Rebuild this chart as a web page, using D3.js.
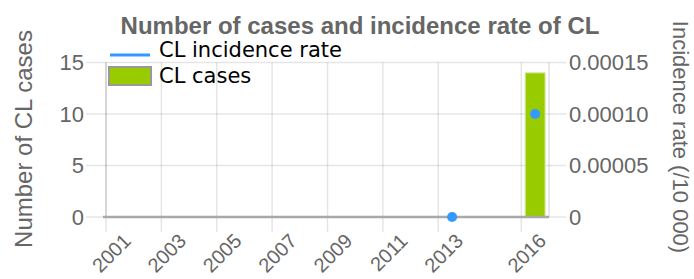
<!DOCTYPE html>
<html><head><meta charset="utf-8">
<script src="https://cdn.jsdelivr.net/npm/d3@7"></script>
<style>
html,body{margin:0;padding:0;background:#fff;overflow:hidden}
svg{display:block}
</style></head>
<body>
<script>
// ---- data ----
const years = ["2001","2002","2003","2004","2005","2006","2007","2008","2009","2010","2011","2012","2013","2014","2015","2016"];
const shownLabels = ["2001","2003","2005","2007","2009","2011","2013","2016"];
const cases = [0,0,0,0,0,0,0,0,0,0,0,0,0,0,0,14];
const incidence = [null,null,null,null,null,null,null,null,null,null,null,null,0,null,null,0.0001];
const casesTicks = [0,5,10,15];
const rateTicks = [0,0.00005,0.0001,0.00015];
const rateTickLabels = ["0","0.00005","0.00010","0.00015"];
const titleText = "Number of cases and incidence rate of CL";
const leftTitle = "Number of CL cases";
const rightTitle = "Incidence rate (/10 000)";
const legendItems = ["CL incidence rate","CL cases"];

const W = 694, H = 279;
const area = {left:106, right:549, top:62.5, bottom:217};
const grey = "#666";
const font = "'Liberation Sans', Arial, sans-serif";

const svg = d3.select("body").append("svg").attr("width",W).attr("height",H);

const x = d3.scaleBand().domain(years).range([area.left, area.right]).paddingInner(0).paddingOuter(0);
const yL = d3.scaleLinear().domain([0,15]).range([area.bottom, area.top]);
const yR = d3.scaleLinear().domain([0,0.00015]).range([area.bottom, area.top]);

// horizontal grid lines
svg.append("g").selectAll("line").data(casesTicks).join("line")
  .attr("x1", area.left-20).attr("x2", area.right+17)
  .attr("y1", d=>yL(d)).attr("y2", d=>yL(d))
  .attr("stroke","rgba(0,0,0,0.1)").attr("stroke-width",1.5);

// vertical grid lines at labelled ticks (bin left edges)
svg.append("g").selectAll("line").data(shownLabels).join("line")
  .attr("x1", d=>x(d)).attr("x2", d=>x(d))
  .attr("y1", area.top).attr("y2", area.bottom+15)
  .attr("stroke","rgba(0,0,0,0.1)").attr("stroke-width",1.5);

// axis lines
svg.append("line").attr("x1",area.left).attr("x2",area.left).attr("y1",area.top).attr("y2",area.bottom)
  .attr("stroke","rgba(0,0,0,0.12)").attr("stroke-width",1.5);
svg.append("line").attr("x1",area.right).attr("x2",area.right).attr("y1",area.top).attr("y2",area.bottom)
  .attr("stroke","rgba(0,0,0,0.12)").attr("stroke-width",1.5);

// left ticks
svg.append("g").selectAll("text").data(casesTicks).join("text")
  .attr("x", area.left-22).attr("y", d=>yL(d)).attr("dy","0.36em")
  .attr("text-anchor","end").attr("font-family",font).attr("font-size",22).attr("fill",grey)
  .text(d=>d);

// right ticks
svg.append("g").selectAll("text").data(rateTicks).join("text")
  .attr("x", area.right+20).attr("y", d=>yR(d)).attr("dy","0.36em")
  .attr("text-anchor","start").attr("font-family",font).attr("font-size",22).attr("fill",grey)
  .text((d,i)=>rateTickLabels[i]);

// x labels
svg.append("g").selectAll("text").data(shownLabels).join("text")
  .attr("transform", d=>`translate(${x(d)+x.bandwidth()/2+2},${area.bottom+15}) rotate(-45)`)
  .attr("text-anchor","end").attr("dy","0.72em")
  .attr("font-family",font).attr("font-size",20).attr("fill",grey)
  .text(d=>d);

// bars
const bw = x.bandwidth()*0.72;
svg.append("g").selectAll("rect").data(years.map((y,i)=>({y, v:cases[i]})).filter(d=>d.v>0)).join("rect")
  .attr("x", d=>x(d.y)+(x.bandwidth()-bw)/2).attr("width", bw)
  .attr("y", d=>yL(d.v)).attr("height", d=>yL(0)-yL(d.v))
  .attr("fill","#99cc00").attr("stroke","#d6eaa0").attr("stroke-width",1);

// zero line
svg.append("line").attr("x1",area.left-3).attr("x2",area.right).attr("y1",yL(0)).attr("y2",yL(0))
  .attr("stroke","#a8a8a8").attr("stroke-width",2.5);

// incidence points
svg.append("g").selectAll("circle").data(years.map((y,i)=>({y, v:incidence[i]})).filter(d=>d.v!==null)).join("circle")
  .attr("cx", d=>x(d.y)+x.bandwidth()/2).attr("cy", d=>yR(d.v)).attr("r",5)
  .attr("fill","#3399ff");

// title
svg.append("text").attr("x",360).attr("y",34).attr("text-anchor","middle")
  .attr("font-family",font).attr("font-weight","bold").attr("font-size",24).attr("fill",grey)
  .text(titleText);

// axis titles
svg.append("text").attr("transform",`translate(32,139) rotate(-90)`).attr("text-anchor","middle")
  .attr("font-family",font).attr("font-size",24).attr("fill",grey).text(leftTitle);
svg.append("text").attr("transform",`translate(673,137) rotate(90)`).attr("text-anchor","middle")
  .attr("font-family",font).attr("font-size",22).attr("fill",grey).text(rightTitle);

// legend
const lg = svg.append("g");
lg.append("rect").attr("x",110).attr("y",53.5).attr("width",40).attr("height",3).attr("fill","#3399ff");
lg.append("rect").attr("x",109).attr("y",67).attr("width",42).attr("height",18)
  .attr("fill","#99cc00").attr("stroke","#999").attr("stroke-width",2);
lg.append("text").attr("x",159).attr("y",57).attr("font-family","'DejaVu Sans', sans-serif").attr("font-size",21).attr("fill","#000").text(legendItems[0]);
lg.append("text").attr("x",159).attr("y",83).attr("font-family","'DejaVu Sans', sans-serif").attr("font-size",21).attr("fill","#000").text(legendItems[1]);
</script>
</body></html>
